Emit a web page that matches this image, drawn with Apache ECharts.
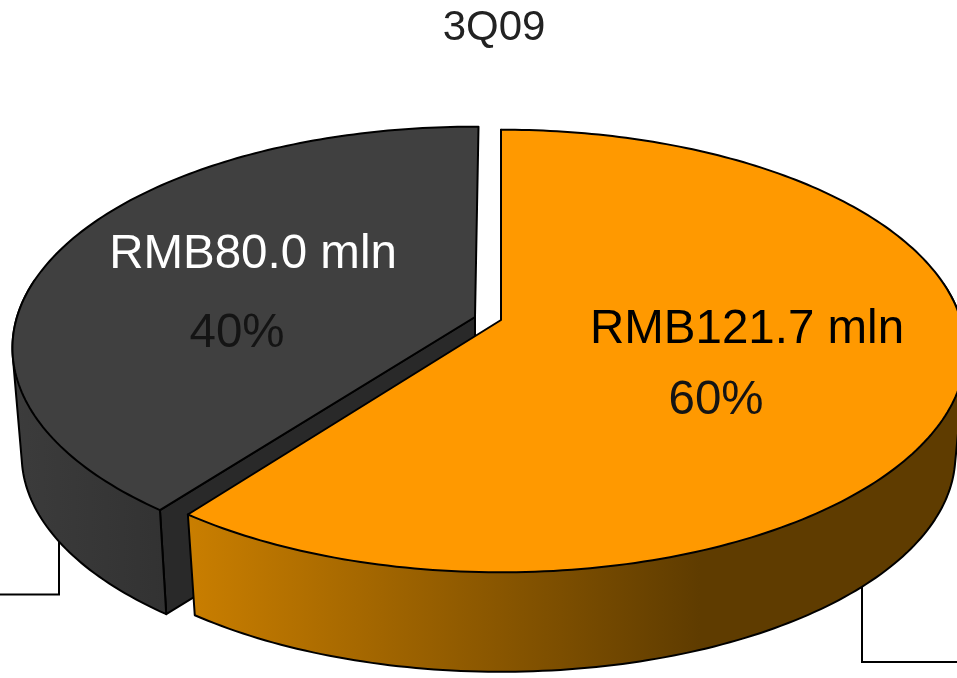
<!DOCTYPE html>
<html>
<head>
<meta charset="utf-8">
<style>html,body{margin:0;padding:0;background:#fff}#chart{width:957px;height:678px}</style>
<script src="https://cdn.jsdelivr.net/npm/echarts@6/dist/echarts.min.js"></script>
</head>
<body>
<div id="chart"></div>
<script>
// Revenue split for the quarter, drawn back slice first so the front slice overlaps it.
const chartTitle = '3Q09';
const sliceValues = [80.0, 121.7];
const valueColors = ['#ffffff', '#000000'];
const shareColors = ['#141414', '#141414'];
const topColors = ['#404040', '#ff9900'];
const wallColors = ['#292929', '#5f3c00'];
const rimStartColors = ['#3c3c3c', '#c97e00'];
const rimEndColors = ['#323232', '#5f3c00'];
const rimStartX = [10, 190];
const rimEndX = [170, 700];

// Perspective disc: a unit circle projected about the slice apex.
const radiiX = [458, 460];
const radiusY = 217, perspective = 0.14;
const depths = [108, 105];
const baseScales = [0.98, 0.978];
const apexes = [[475, 317], [501, 320]];
const turnDegrees = [0.5, 0];
const valueLabelAt = [[253, 255], [747, 330]];
const shareLabelAt = [[237, 334], [716, 401]];
const labelFont = '47.5px "Liberation Sans", Arial, sans-serif';

const total = sliceValues.reduce((a, b) => a + b, 0);

function project(i, deg, lower) {
  const t = deg * Math.PI / 180;
  const u = Math.sin(t), v = -Math.cos(t);
  const w = 1 - perspective * v;
  const s = lower ? baseScales[i] : 1;
  return [
    apexes[i][0] + s * radiiX[i] * u / w,
    apexes[i][1] + (lower ? depths[i] : 0) + s * radiusY * v / w
  ];
}

function arc(i, from, to, lower) {
  const pts = [];
  const n = Math.max(2, Math.ceil(Math.abs(to - from)));
  for (let k = 0; k <= n; k++) pts.push(project(i, from + (to - from) * k / n, lower));
  return pts;
}

// Convex outline of a point set, used for the visible band of the rim.
function hull(points) {
  const p = points.slice().sort((a, b) => a[0] - b[0] || a[1] - b[1]);
  const cross = (o, a, b) => (a[0] - o[0]) * (b[1] - o[1]) - (a[1] - o[1]) * (b[0] - o[0]);
  const walk = list => {
    const out = [];
    for (const q of list) {
      while (out.length >= 2 && cross(out[out.length - 2], out[out.length - 1], q) <= 0) out.pop();
      out.push(q);
    }
    out.pop();
    return out;
  };
  return walk(p).concat(walk(p.slice().reverse()));
}

const edge = { stroke: '#000', lineWidth: 2, lineJoin: 'round' };

function renderSlice(params, api) {
  const i = params.dataIndex;
  const value = api.value(0);
  // Slices run anticlockwise from twelve o'clock.
  let before = 0;
  for (let k = 0; k < i; k++) before += sliceValues[k];
  const end = 360 - before / total * 360 + turnDegrees[i];
  const start = end - value / total * 360;
  const apex = apexes[i];
  const apexLow = [apex[0], apex[1] + depths[i]];
  const topArc = arc(i, start, end, false);
  const lowArc = arc(i, start, end, true);

  // Only the part of the rim facing the viewer can be seen.
  const frontFrom = Math.max(start, 80);
  const frontTo = Math.min(end, 280);
  const frontPoints = arc(i, frontFrom, frontTo, false).concat(arc(i, frontFrom, frontTo, true));
  const rimFill = {
    type: 'linear', global: true,
    x: rimStartX[i], y: 0, x2: rimEndX[i], y2: 0,
    colorStops: [
      { offset: 0, color: rimStartColors[i] },
      { offset: 1, color: rimEndColors[i] }
    ]
  };
  const children = [];
  // Cut face towards the viewer.
  children.push({
    type: 'polygon',
    shape: { points: [apex, topArc[0], lowArc[0], apexLow] },
    style: Object.assign({ fill: wallColors[i] }, edge)
  });
  children.push({
    type: 'polygon',
    shape: { points: hull(frontPoints) },
    style: Object.assign({ fill: rimFill }, edge)
  });
  // Top face.
  children.push({
    type: 'polygon',
    shape: { points: [apex].concat(topArc) },
    style: Object.assign({ fill: topColors[i] }, edge)
  });
  children.push({
    type: 'text',
    style: {
      x: valueLabelAt[i][0], y: valueLabelAt[i][1],
      text: 'RMB' + value.toFixed(1) + ' mln',
      fill: valueColors[i], font: labelFont,
      align: 'center', verticalAlign: 'middle'
    }
  });
  children.push({
    type: 'text',
    style: {
      x: shareLabelAt[i][0], y: shareLabelAt[i][1],
      text: Math.round(value / total * 100) + '%',
      fill: shareColors[i], font: labelFont,
      align: 'center', verticalAlign: 'middle'
    }
  });
  return { type: 'group', children };
}

const chart = echarts.init(document.getElementById('chart'), null, { renderer: 'canvas' });
chart.setOption({
  animation: false,
  backgroundColor: '#ffffff',
  title: {
    text: chartTitle, left: 494, top: 2, textAlign: 'center',
    textStyle: { fontFamily: '"Liberation Sans", Arial, sans-serif', fontSize: 42, fontWeight: 'normal', color: '#222' },
    padding: [5, 10, 5, 0]
  },
  graphic: [
    { type: 'polyline', z: 0, shape: { points: [[0, 594.5], [59, 594.5], [59, 530]] }, style: { fill: 'none', stroke: '#000', lineWidth: 2 } },
    { type: 'polyline', z: 0, shape: { points: [[862, 585], [862, 662], [957, 662]] }, style: { fill: 'none', stroke: '#000', lineWidth: 2 } }
  ],
  series: [{
    type: 'custom',
    coordinateSystem: 'none',
    z: 5,
    renderItem: renderSlice,
    data: sliceValues.map(v => [v])
  }]
});
</script>
</body>
</html>
